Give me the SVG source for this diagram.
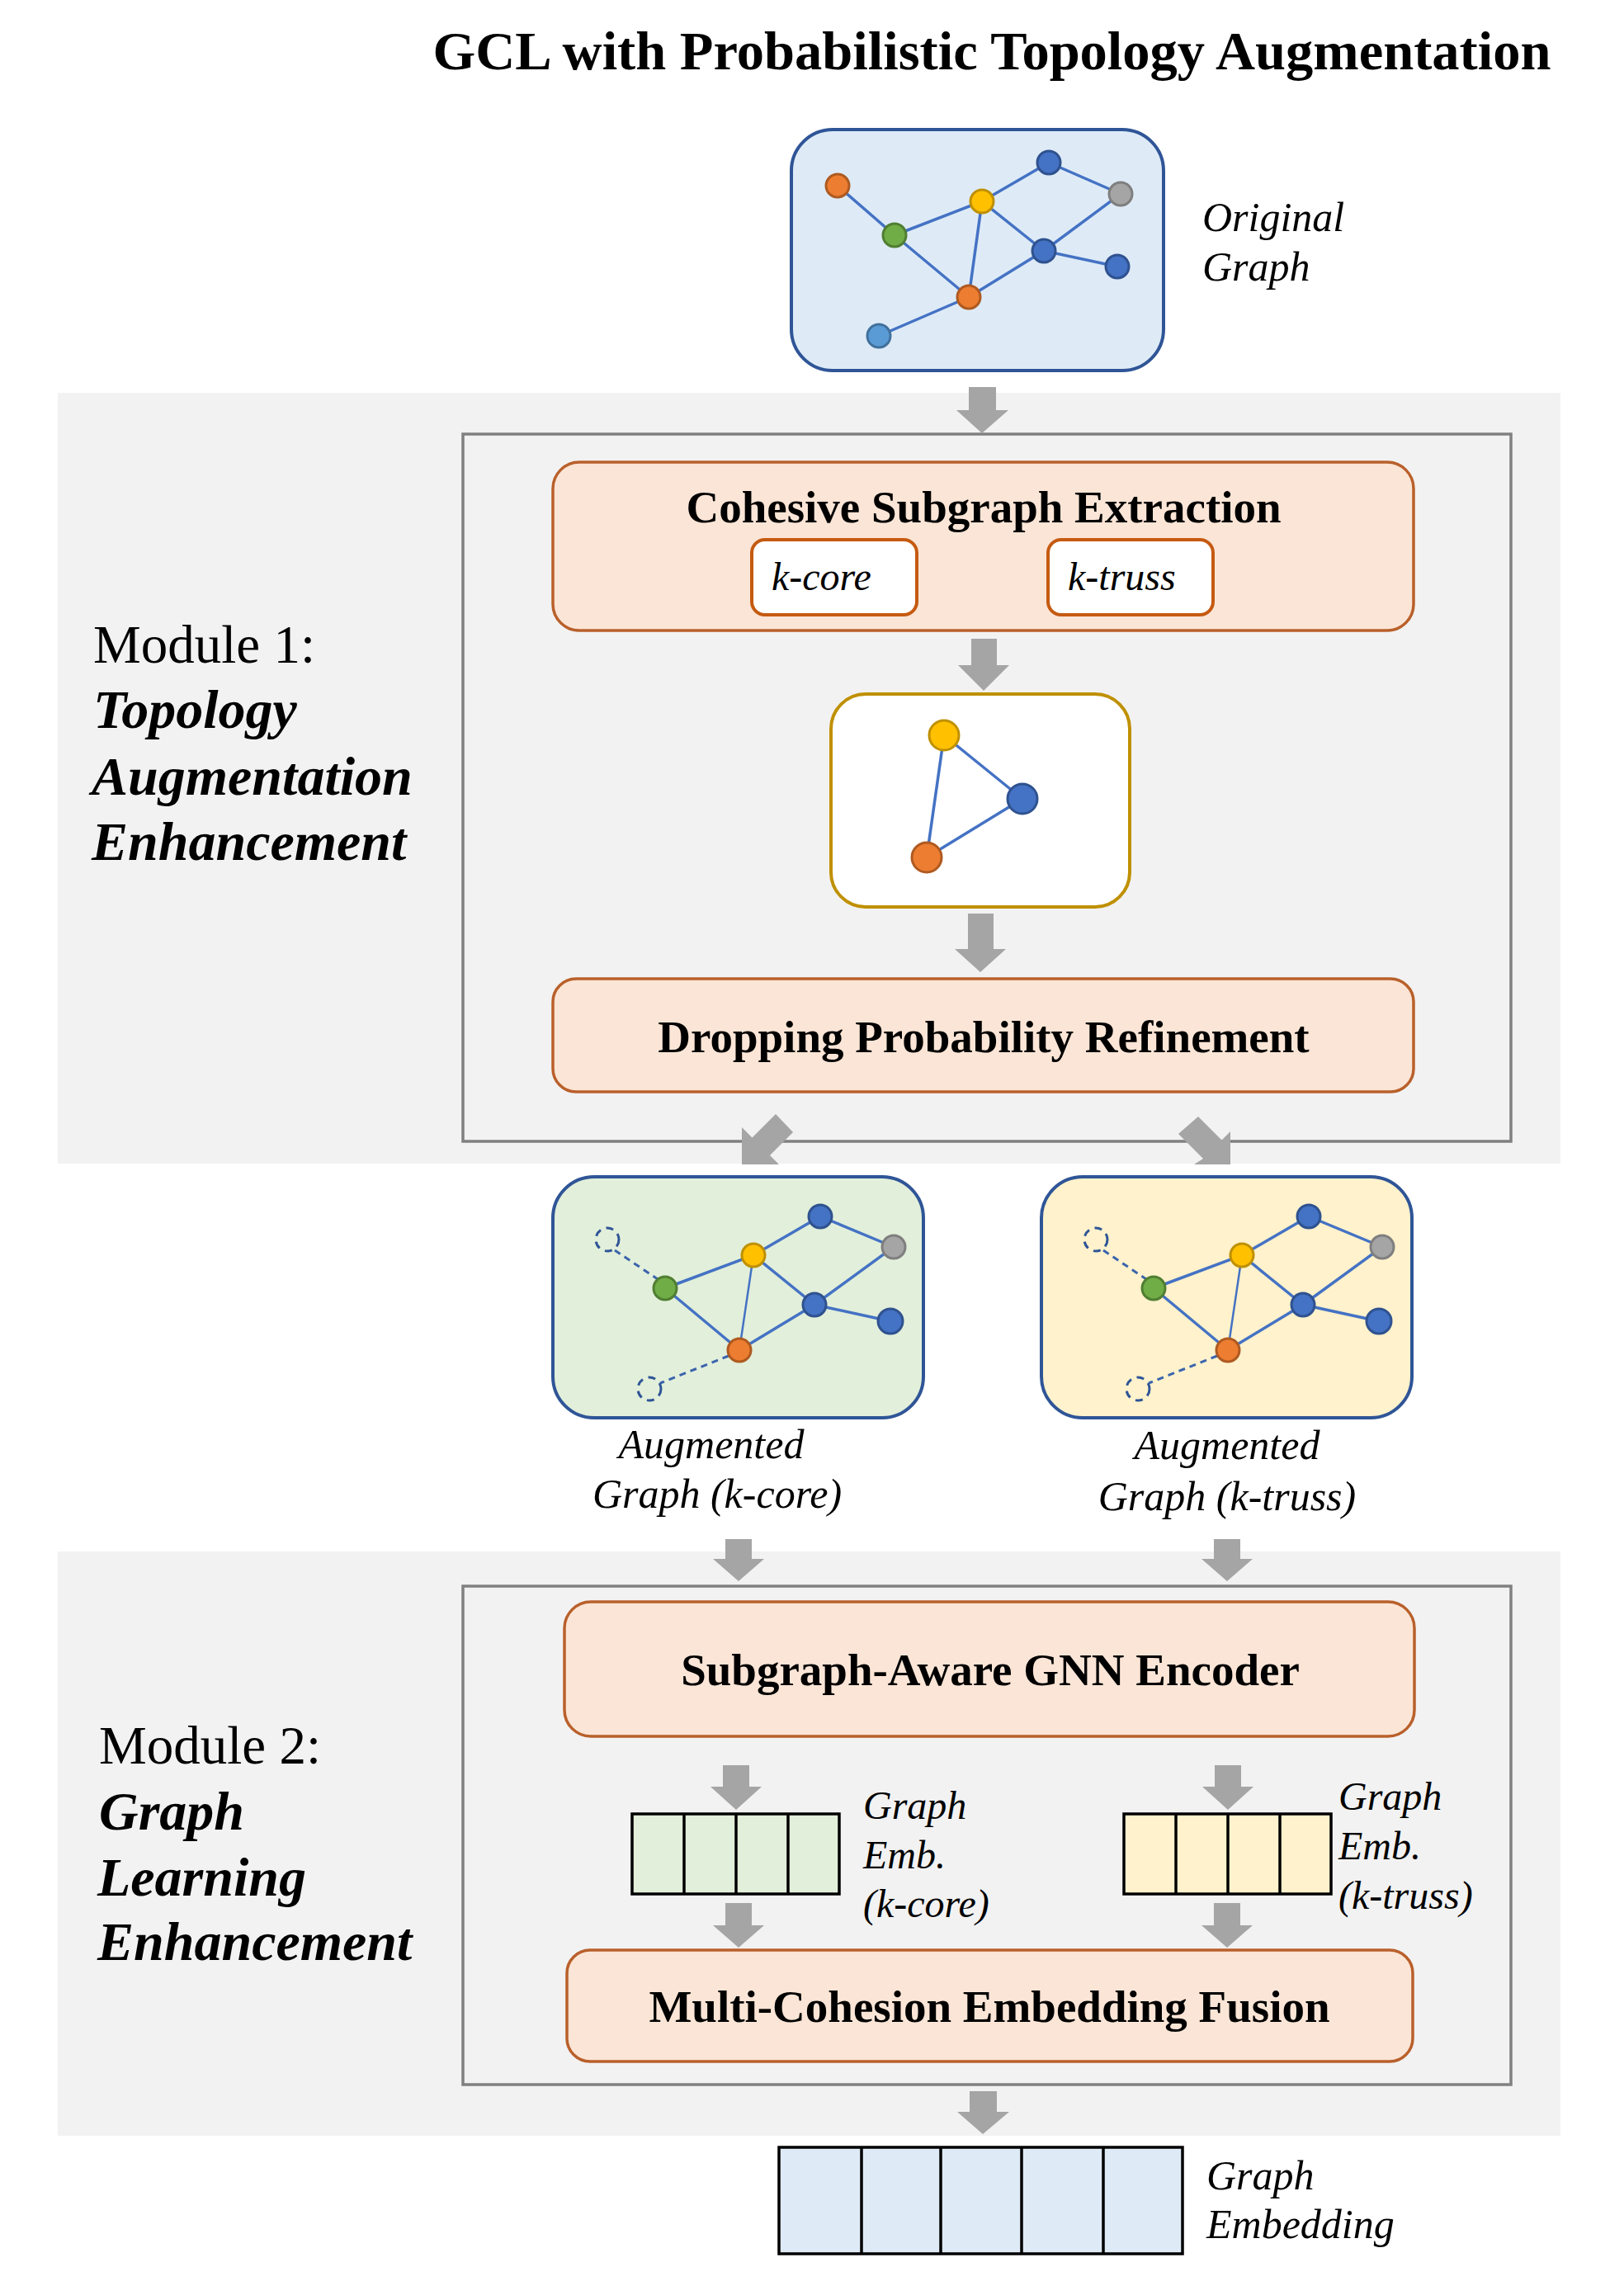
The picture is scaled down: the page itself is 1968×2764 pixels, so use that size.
<svg xmlns="http://www.w3.org/2000/svg" width="1968" height="2764" viewBox="0 0 1968 2764">
<defs>
<style>
.bg{fill:#F2F2F2}
.frame{fill:none;stroke:#808080;stroke-width:3.5}
.proc{fill:#FBE5D6;stroke:#B9602B;stroke-width:3.5}
.sub{fill:#FFFFFF;stroke:#C55A11;stroke-width:4}
.arrow{fill:#A5A5A5}
.edge{stroke:#4472C4;stroke-width:3.5;fill:none}
.thin{stroke:#4472C4;stroke-width:2.5;fill:none}
.dash{stroke:#3B64AD;stroke-width:3;stroke-dasharray:8 6;fill:none}
.ghost{fill:none;stroke:#2F5597;stroke-width:3;stroke-dasharray:9 7}
.gbox{stroke:#2F5597;stroke-width:4}
.or{fill:#ED7D31;stroke:#AE5A21;stroke-width:3}
.gr{fill:#70AD47;stroke:#507E32;stroke-width:3}
.ye{fill:#FFC000;stroke:#BF9000;stroke-width:3}
.bl{fill:#4472C4;stroke:#2F528F;stroke-width:3}
.gy{fill:#A5A5A5;stroke:#7F7F7F;stroke-width:3}
.lb{fill:#5B9BD5;stroke:#41719C;stroke-width:3}
.cell{stroke:#000000;stroke-width:3.5}
.t{font-family:"Liberation Serif","Times New Roman",serif;fill:#000}
.b{font-weight:bold}
.i{font-style:italic}
</style>
</defs>

<rect width="1968" height="2764" fill="#FFFFFF"/>

<!-- backgrounds -->
<rect class="bg" x="70" y="476" width="1821" height="934"/>
<rect class="bg" x="70" y="1880" width="1821" height="708"/>
<rect class="frame" x="561" y="526" width="1270" height="857"/>
<rect class="frame" x="561" y="1922" width="1270" height="604"/>

<text class="t b" x="1202" y="84" font-size="66.5" text-anchor="middle">GCL with Probabilistic Topology Augmentation</text>

<!-- module labels -->
<g id="module1-label">
<text class="t" x="113" y="803" font-size="65">Module 1:</text>
<text class="t b i" x="113" y="882" font-size="66">Topology</text>
<text class="t b i" x="111" y="963" font-size="66">Augmentation</text>
<text class="t b i" x="111" y="1042" font-size="66">Enhancement</text>
</g>
<g id="module2-label">
<text class="t" x="120" y="2137" font-size="65">Module 2:</text>
<text class="t b i" x="120" y="2217" font-size="66">Graph</text>
<text class="t b i" x="118" y="2297" font-size="66">Learning</text>
<text class="t b i" x="118" y="2375" font-size="66">Enhancement</text>
</g>

<!-- original graph -->
<g id="original-graph">
<rect class="gbox" x="959" y="157" width="451" height="292" rx="50" fill="#DEEBF7"/>
<g>
<line class="edge" x1="1015" y1="225" x2="1084" y2="285"/>
<line class="edge" x1="1084" y1="285" x2="1190" y2="244"/>
<line class="edge" x1="1084" y1="285" x2="1174" y2="360"/>
<line class="edge" x1="1190" y1="244" x2="1271" y2="197"/>
<line class="edge" x1="1190" y1="244" x2="1174" y2="360"/>
<line class="edge" x1="1190" y1="244" x2="1265" y2="304"/>
<line class="edge" x1="1271" y1="197" x2="1358" y2="235"/>
<line class="edge" x1="1358" y1="235" x2="1265" y2="304"/>
<line class="edge" x1="1265" y1="304" x2="1354" y2="323"/>
<line class="edge" x1="1265" y1="304" x2="1174" y2="360"/>
<line class="edge" x1="1174" y1="360" x2="1065" y2="407"/>
</g>
<circle class="or" cx="1015" cy="225" r="14"/>
<circle class="gr" cx="1084" cy="285" r="14"/>
<circle class="ye" cx="1190" cy="244" r="14"/>
<circle class="bl" cx="1271" cy="197" r="14"/>
<circle class="gy" cx="1358" cy="235" r="14"/>
<circle class="bl" cx="1265" cy="304" r="14"/>
<circle class="bl" cx="1354" cy="323" r="14"/>
<circle class="or" cx="1174" cy="360" r="14"/>
<circle class="lb" cx="1065" cy="407" r="14"/>
<text class="t i" x="1457" y="280" font-size="50">Original</text>
<text class="t i" x="1457" y="340" font-size="50">Graph</text>
</g>

<!-- cohesive subgraph extraction -->
<g id="cohesive">
<rect class="proc" x="670" y="560" width="1043" height="204" rx="32"/>
<text class="t b" x="1192" y="633" font-size="55" text-anchor="middle">Cohesive Subgraph Extraction</text>
<rect class="sub" x="911" y="654" width="200" height="91" rx="16"/>
<text class="t i" x="935" y="715" font-size="48">k-core</text>
<rect class="sub" x="1270" y="654" width="200" height="91" rx="16"/>
<text class="t i" x="1294" y="715" font-size="48">k-truss</text>
</g>

<!-- triangle subgraph -->
<g id="triangle">
<rect x="1007" y="841" width="362" height="258" rx="42" fill="#FFFFFF" stroke="#BF9000" stroke-width="4"/>
<line class="edge" x1="1144" y1="891" x2="1239" y2="968"/>
<line class="edge" x1="1144" y1="891" x2="1123" y2="1039"/>
<line class="edge" x1="1239" y1="968" x2="1123" y2="1039"/>
<circle class="ye" cx="1144" cy="891" r="18"/>
<circle class="bl" cx="1239" cy="968" r="18"/>
<circle class="or" cx="1123" cy="1039" r="18"/>
</g>

<!-- dropping probability -->
<g id="dropping">
<rect class="proc" x="670" y="1186" width="1043" height="137" rx="28"/>
<text class="t b" x="1192" y="1275" font-size="55" text-anchor="middle">Dropping Probability Refinement</text>
</g>

<!-- augmented graph k-core -->
<g id="aug-kcore">
<rect class="gbox" x="670" y="1426" width="449" height="292" rx="50" fill="#E2EFDA"/>
<line class="dash" x1="745" y1="1515" x2="797" y2="1550"/>
<line class="dash" x1="883" y1="1643" x2="800" y2="1676"/>
<line class="edge" x1="994" y1="1474" x2="913" y2="1521"/>
<line class="edge" x1="994" y1="1474" x2="1083" y2="1511"/>
<line class="edge" x1="913" y1="1521" x2="806" y2="1561"/>
<line class="edge" x1="913" y1="1521" x2="987" y2="1581"/>
<line class="thin" x1="913" y1="1521" x2="896" y2="1636"/>
<line class="edge" x1="806" y1="1561" x2="896" y2="1636"/>
<line class="edge" x1="1083" y1="1511" x2="987" y2="1581"/>
<line class="edge" x1="987" y1="1581" x2="1079" y2="1601"/>
<line class="edge" x1="987" y1="1581" x2="896" y2="1636"/>
<circle class="ghost" cx="736" cy="1502" r="14"/>
<circle class="ghost" cx="787" cy="1683" r="14"/>
<circle class="bl" cx="994" cy="1474" r="14"/>
<circle class="gy" cx="1083" cy="1511" r="14"/>
<circle class="ye" cx="913" cy="1521" r="14"/>
<circle class="gr" cx="806" cy="1561" r="14"/>
<circle class="bl" cx="987" cy="1581" r="14"/>
<circle class="bl" cx="1079" cy="1601" r="15"/>
<circle class="or" cx="896" cy="1636" r="14"/>
<text class="t i" x="862" y="1767" font-size="50" text-anchor="middle">Augmented</text>
<text class="t i" x="869" y="1827" font-size="50" text-anchor="middle">Graph (k-core)</text>
</g>

<!-- augmented graph k-truss -->
<g id="aug-ktruss">
<rect class="gbox" x="1262" y="1426" width="449" height="292" rx="50" fill="#FFF2CC"/>
<g transform="translate(592 0)">
<line class="dash" x1="745" y1="1515" x2="797" y2="1550"/>
<line class="dash" x1="883" y1="1643" x2="800" y2="1676"/>
<line class="edge" x1="994" y1="1474" x2="913" y2="1521"/>
<line class="edge" x1="994" y1="1474" x2="1083" y2="1511"/>
<line class="edge" x1="913" y1="1521" x2="806" y2="1561"/>
<line class="edge" x1="913" y1="1521" x2="987" y2="1581"/>
<line class="thin" x1="913" y1="1521" x2="896" y2="1636"/>
<line class="edge" x1="806" y1="1561" x2="896" y2="1636"/>
<line class="edge" x1="1083" y1="1511" x2="987" y2="1581"/>
<line class="edge" x1="987" y1="1581" x2="1079" y2="1601"/>
<line class="edge" x1="987" y1="1581" x2="896" y2="1636"/>
<circle class="ghost" cx="736" cy="1502" r="14"/>
<circle class="ghost" cx="787" cy="1683" r="14"/>
<circle class="bl" cx="994" cy="1474" r="14"/>
<circle class="gy" cx="1083" cy="1511" r="14"/>
<circle class="ye" cx="913" cy="1521" r="14"/>
<circle class="gr" cx="806" cy="1561" r="14"/>
<circle class="bl" cx="987" cy="1581" r="14"/>
<circle class="bl" cx="1079" cy="1601" r="15"/>
<circle class="or" cx="896" cy="1636" r="14"/>
</g>
<text class="t i" x="1487" y="1768" font-size="50" text-anchor="middle">Augmented</text>
<text class="t i" x="1487" y="1830" font-size="50" text-anchor="middle">Graph (k-truss)</text>
</g>

<!-- subgraph-aware encoder -->
<g id="encoder">
<rect class="proc" x="684" y="1941" width="1030" height="163" rx="32"/>
<text class="t b" x="1200" y="2042" font-size="55" text-anchor="middle">Subgraph-Aware GNN Encoder</text>
</g>

<!-- embeddings -->
<g id="emb-kcore">
<rect class="cell" x="766" y="2198" width="251" height="97" fill="#E2EFDA"/>
<line class="cell" x1="829" y1="2198" x2="829" y2="2295"/>
<line class="cell" x1="892" y1="2198" x2="892" y2="2295"/>
<line class="cell" x1="955" y1="2198" x2="955" y2="2295"/>
<text class="t i" x="1046" y="2204" font-size="48">Graph</text>
<text class="t i" x="1046" y="2264" font-size="48">Emb.</text>
<text class="t i" x="1046" y="2323" font-size="48">(k-core)</text>
</g>
<g id="emb-ktruss">
<rect class="cell" x="1362" y="2198" width="251" height="97" fill="#FFF2CC"/>
<line class="cell" x1="1425" y1="2198" x2="1425" y2="2295"/>
<line class="cell" x1="1488" y1="2198" x2="1488" y2="2295"/>
<line class="cell" x1="1551" y1="2198" x2="1551" y2="2295"/>
<text class="t i" x="1622" y="2193" font-size="48">Graph</text>
<text class="t i" x="1622" y="2253" font-size="48">Emb.</text>
<text class="t i" x="1622" y="2313" font-size="48">(k-truss)</text>
</g>

<!-- fusion -->
<g id="fusion">
<rect class="proc" x="687" y="2363" width="1025" height="135" rx="28"/>
<text class="t b" x="1199" y="2450" font-size="55" text-anchor="middle">Multi-Cohesion Embedding Fusion</text>
</g>

<!-- final embedding -->
<g id="graph-embedding">
<rect class="cell" x="944" y="2602" width="489" height="129" fill="#DEEBF7"/>
<line class="cell" x1="1044" y1="2602" x2="1044" y2="2731"/>
<line class="cell" x1="1140" y1="2602" x2="1140" y2="2731"/>
<line class="cell" x1="1238" y1="2602" x2="1238" y2="2731"/>
<line class="cell" x1="1337" y1="2602" x2="1337" y2="2731"/>
<text class="t i" x="1462" y="2653" font-size="50">Graph</text>
<text class="t i" x="1462" y="2712" font-size="50">Embedding</text>
</g>

<!-- connectors -->
<g id="connectors">
<polygon class="arrow" points="1174,469 1207,469 1207,497 1222,497 1190,525 1159,497 1174,497"/>
<polygon class="arrow" points="1177,774 1208,774 1208,806 1223,806 1192,837 1161,806 1177,806"/>
<polygon class="arrow" points="1173,1107 1204,1107 1204,1150 1219,1150 1188,1178 1157,1150 1173,1150"/>
<polygon class="arrow" points="940,1350 961,1372 933,1400 944,1411 899,1411 899,1366 911.5,1378.5"/>
<polygon class="arrow" points="1452,1353 1428,1374 1458,1404 1447,1411 1491,1411 1491,1371 1480.5,1381.5"/>
<polygon class="arrow" points="879,1865 911,1865 911,1889 926,1889 895,1916 864,1889 879,1889"/>
<polygon class="arrow" points="1471,1865 1503,1865 1503,1889 1518,1889 1487,1916 1456,1889 1471,1889"/>
<polygon class="arrow" points="876,2139 908,2139 908,2165 923,2165 892,2193 861,2165 876,2165"/>
<polygon class="arrow" points="1472,2139 1504,2139 1504,2165 1519,2165 1488,2193 1457,2165 1472,2165"/>
<polygon class="arrow" points="879,2306 911,2306 911,2333 926,2333 895,2360 864,2333 879,2333"/>
<polygon class="arrow" points="1471,2306 1503,2306 1503,2333 1518,2333 1487,2360 1456,2333 1471,2333"/>
<polygon class="arrow" points="1175,2534 1208,2534 1208,2559 1223,2559 1191,2586 1160,2559 1175,2559"/>
</g>
</svg>
